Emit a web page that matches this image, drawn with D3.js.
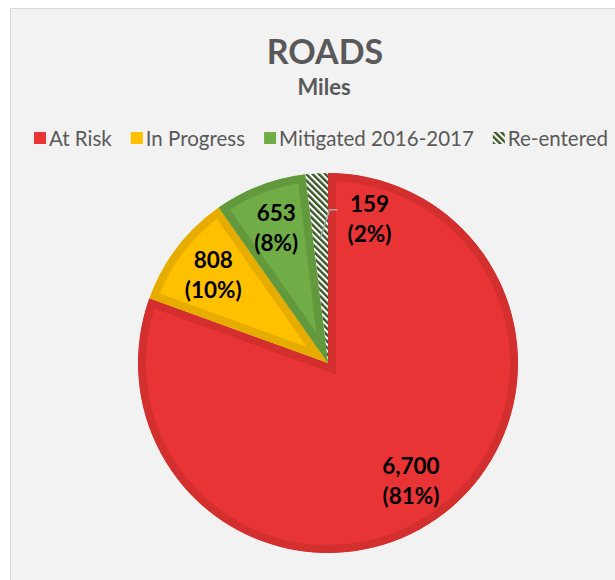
<!DOCTYPE html>
<html lang="en">
<head>
  <meta charset="UTF-8">
  <title>ROADS - Miles</title>
  <script src="https://d3js.org/d3.v7.min.js"></script>
  <style>
    body { margin: 0; background: #fff; }
    svg { display: block; }
  </style>
</head>
<body>

<div id="chart-container"></div>

<script>
// Chart data
const categories = ["At Risk", "In Progress", "Mitigated 2016-2017", "Re-entered"];
const miles = [6700, 808, 653, 159];
const fills = ["#e83434", "#ffc000", "#70ad47", "hatch"];
const borders = ["#d42f2f", "#e6ad00", "#62993d", "#375623"];

const width = 615, height = 580;
const cx = 328, cy = 363, radius = 190;

const svg = d3.select("#chart-container")
  .append("svg")
  .attr("width", width)
  .attr("height", height)
  .style("font-family", "Lato, 'Open Sans', sans-serif");

const defs = svg.append("defs");

// diagonal hatch for "Re-entered"
const pat = defs.append("pattern")
  .attr("id", "hatch")
  .attr("patternUnits", "userSpaceOnUse")
  .attr("width", 4.5)
  .attr("height", 4.5)
  .attr("patternTransform", "rotate(-45)");
pat.append("rect").attr("width", 4.5).attr("height", 4.5).attr("fill", "#fff");
pat.append("rect").attr("width", 2.4).attr("height", 4.5).attr("fill", "#375623");

// chart area background
svg.append("rect")
  .attr("x", 10.5).attr("y", 8.5)
  .attr("width", width).attr("height", height)
  .attr("fill", "#f2f2f2")
  .attr("stroke", "#d9d9d9");

// title
svg.append("text")
  .attr("x", 325).attr("y", 64)
  .attr("text-anchor", "middle")
  .attr("font-size", 34).attr("font-weight", "bold")
  .attr("fill", "#595959")
  .text("ROADS");

svg.append("text")
  .attr("x", 324).attr("y", 95)
  .attr("text-anchor", "middle")
  .attr("font-size", 22).attr("font-weight", "bold")
  .attr("fill", "#595959")
  .text("Miles");

// legend
const legend = svg.append("g").attr("transform", "translate(34,138)");
let lx = 0;
categories.forEach((c, i) => {
  const g = legend.append("g").attr("transform", `translate(${lx},0)`);
  g.append("rect")
    .attr("x", 0).attr("y", -6)
    .attr("width", 12).attr("height", 12)
    .attr("fill", fills[i] === "hatch" ? "url(#hatch)" : fills[i]);
  const t = g.append("text")
    .attr("x", 15).attr("y", 7.5)
    .attr("font-size", 20.5)
    .attr("fill", "#595959")
    .text(c);
  lx += 15 + t.node().getComputedTextLength() + 19;
});

// pie
const pie = d3.pie().sort(null).value(d => d);
const arcs = pie(miles);
const arc = d3.arc().innerRadius(0).outerRadius(radius);
const total = d3.sum(miles);

const pg = svg.append("g").attr("transform", `translate(${cx},${cy})`);

arcs.forEach((a, i) => {
  defs.append("clipPath").attr("id", "clip" + i)
    .append("path").attr("d", arc(a));
});

pg.selectAll("path.slice")
  .data(arcs)
  .enter()
  .append("path")
  .attr("class", "slice")
  .attr("d", arc)
  .attr("fill", (d, i) => fills[i] === "hatch" ? "url(#hatch)" : fills[i])
  .attr("stroke", (d, i) => fills[i] === "hatch" ? "none" : borders[i])
  .attr("stroke-width", 16)
  .attr("stroke-linejoin", "miter")
  .attr("clip-path", (d, i) => `url(#clip${i})`);

// labels
const labelArc = d3.arc().innerRadius(radius * 0.76).outerRadius(radius * 0.76);
const fmt = d3.format(",");

arcs.forEach((a, i) => {
  const pct = Math.round(miles[i] / total * 100) + "%";
  let x, y;
  if (i === 3) {
    // label beside the thin slice, with a leader line
    const start = d3.arc().innerRadius(radius * 0.66).outerRadius(radius * 0.66).centroid(a);
    const elbow = [start[0] + 9, start[1] - 28];
    pg.append("polyline")
      .attr("points", [start, elbow, [elbow[0] + 8, elbow[1]]].map(p => p.join(",")).join(" "))
      .attr("fill", "none")
      .attr("stroke", "#a6a6a6")
      .attr("stroke-width", 1.5);
    x = elbow[0] + 40; y = elbow[1] + 9;
  } else {
    const c = labelArc.centroid(a);
    x = c[0]; y = c[1];
  }
  const t = pg.append("text")
    .attr("text-anchor", "middle")
    .attr("font-size", 22.5).attr("font-weight", "bold")
    .attr("fill", "#000");
  t.append("tspan").attr("x", x).attr("y", y - 7).text(fmt(miles[i]));
  t.append("tspan").attr("x", x).attr("y", y + 23).text("(" + pct + ")");
});
</script>

</body>
</html>
